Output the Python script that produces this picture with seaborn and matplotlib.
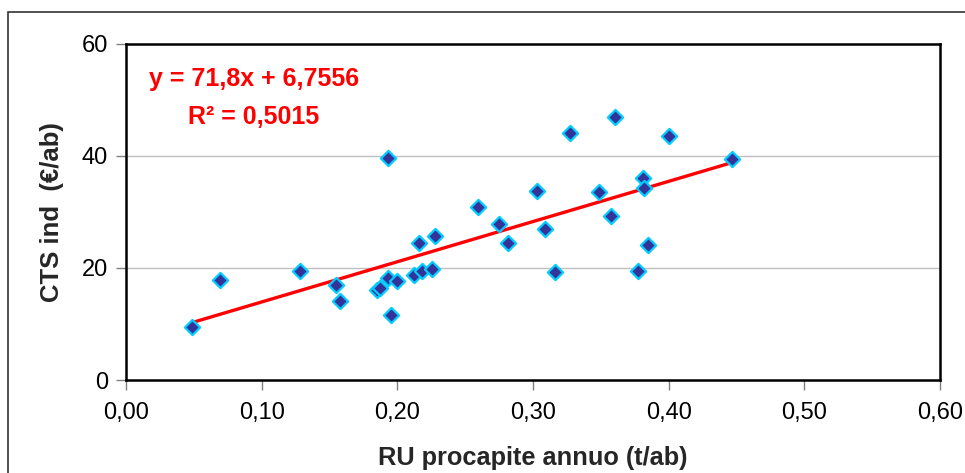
import matplotlib
matplotlib.use("Agg")
import matplotlib.pyplot as plt
import matplotlib.patches as mpatches
from matplotlib.ticker import FuncFormatter
import numpy as np
import pandas as pd
import seaborn as sns

# Data
ru_procapite = [0.049, 0.069, 0.128, 0.155, 0.158, 0.185, 0.187, 0.193, 0.193, 0.195,
                0.1995, 0.2125, 0.218, 0.2255, 0.216, 0.2277, 0.2597, 0.275, 0.2818,
                0.3027, 0.3088, 0.3162, 0.3273, 0.3489, 0.3575, 0.3604, 0.3771, 0.3813,
                0.382, 0.385, 0.4005, 0.4464]
cts_ind = [9.5, 17.9, 19.5, 17.0, 14.1, 16.0, 16.5, 39.6, 18.3, 11.6,
           17.6, 18.8, 19.5, 19.8, 24.4, 25.7, 30.9, 27.9, 24.4,
           33.8, 26.9, 19.2, 44.1, 33.5, 29.3, 46.9, 19.4, 36.0,
           34.2, 24.1, 43.5, 39.4]
slope = 71.8
intercept = 6.7556
r2 = 0.5015
x_ticks = [0.0, 0.1, 0.2, 0.3, 0.4, 0.5, 0.6]
y_ticks = [0, 20, 40, 60]

df = pd.DataFrame({"x": ru_procapite, "y": cts_ind})

sns.set_theme(style="white")
plt.rcParams["font.family"] = ["Liberation Sans", "DejaVu Sans"]

fig = plt.figure(figsize=(9.65, 4.73), dpi=100)
ax = fig.add_axes([126/965, 1 - 380/473, (940-126)/965, (380-44)/473])

# outer chart border
fig.patches.append(mpatches.Rectangle((8/965, -0.1), 1.2, 1 - 12/473 + 0.1,
                                      transform=fig.transFigure, fill=False,
                                      edgecolor="#333333", linewidth=1.2))

for yv in y_ticks[1:-1]:
    ax.axhline(yv, color="#c0c0c0", linewidth=1.0, zorder=0)

xs = np.array([min(ru_procapite), max(ru_procapite)])
sns.lineplot(x=xs, y=slope * xs + intercept, ax=ax, color="#ff0000", linewidth=2.4, zorder=3)

sns.scatterplot(data=df, x="x", y="y", ax=ax, marker="D", s=60,
                color="#333399", edgecolor="#00ccff", linewidth=1.6, zorder=4)

ax.set_xlim(0, 0.6)
ax.set_ylim(0, 60)
ax.set_xticks(x_ticks)
ax.set_yticks(y_ticks)
ax.xaxis.set_major_formatter(FuncFormatter(lambda v, p: f"{v:.2f}".replace(".", ",")))
ax.tick_params(axis="both", which="major", direction="out", length=7, width=1,
               color="#808080", labelsize=17, labelcolor="black", pad=6,
               bottom=True, left=True)
ax.tick_params(axis="x", pad=9)

for sp in ax.spines.values():
    sp.set_color("black")
    sp.set_linewidth(1.8)

ax.set_xlabel("RU procapite annuo (t/ab)", fontsize=18.3, fontweight="bold", labelpad=16)
ax.set_ylabel("CTS ind  (€/ab)", fontsize=18.5, fontweight="bold", labelpad=13)

ax.text(0.028, 0.896, f"y = {slope:.1f}x + {intercept:.4f}".replace(".", ","),
        transform=ax.transAxes, color="#ff0000", fontsize=18, fontweight="bold",
        va="center", ha="left")
ax.text(0.076, 0.783, f"R² = {r2:.4f}".replace(".", ","),
        transform=ax.transAxes, color="#ff0000", fontsize=18, fontweight="bold",
        va="center", ha="left")

fig.savefig("out.png", dpi=100, facecolor="white")
